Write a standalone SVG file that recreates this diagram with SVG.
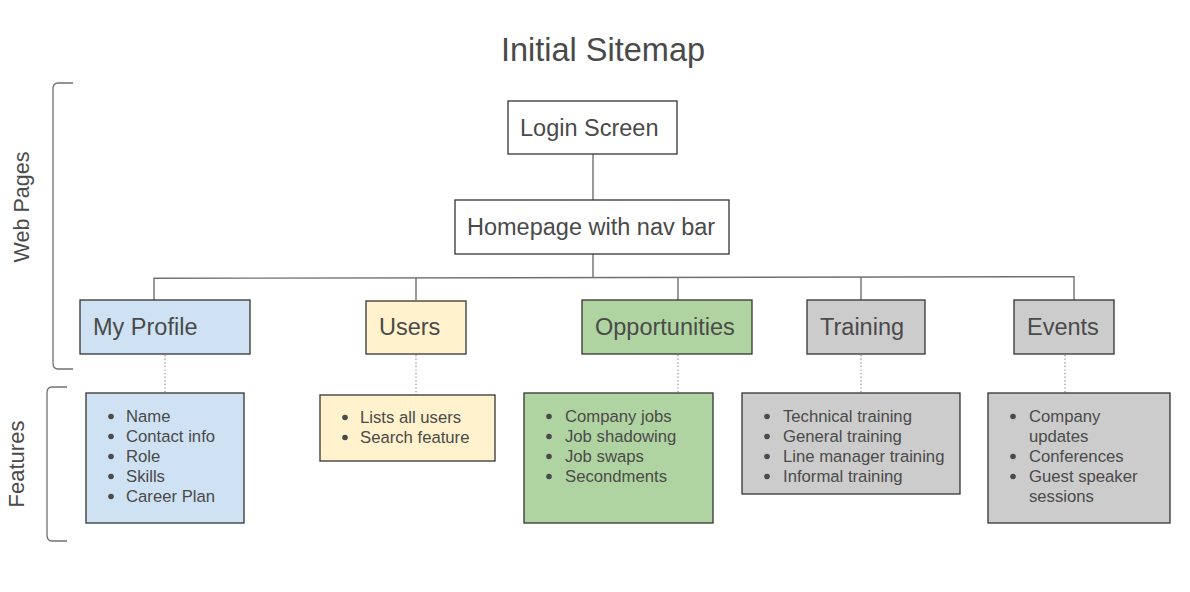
<svg xmlns="http://www.w3.org/2000/svg" width="1190" height="592" viewBox="0 0 1190 592">
<style>
text{font-family:"Liberation Sans",Arial,sans-serif;fill:#4a4a4a}
.box{stroke:#333;stroke-width:1.3}
.nt{font-size:23.5px}
.ft{font-size:16.7px}
.con{fill:none;stroke:#707070;stroke-width:1.4}
.dot{fill:none;stroke:#888;stroke-width:1.2;stroke-dasharray:1.2 2.4}
.br{fill:none;stroke:#707070;stroke-width:1.3}
.b{fill:#4a4a4a}
</style>
<rect width="1190" height="592" fill="#fff"/>
<text x="603" y="61" text-anchor="middle" font-size="32.5">Initial Sitemap</text>
<g id="brackets">
<path class="br" d="M73,83 L58,83 Q53,83 53,89 L53,363 Q53,369 58,369 L73,369"/>
<path class="br" d="M67,387 L52,387 Q47,387 47,393 L47,535 Q47,541 52,541 L67,541"/>
<text transform="translate(29,207) rotate(-90)" text-anchor="middle" font-size="21.5">Web Pages</text>
<text transform="translate(24,464) rotate(-90)" text-anchor="middle" font-size="22">Features</text>
</g>
<g id="connectors">
<path class="con" d="M593,154 V200"/>
<path class="con" d="M593,254 V277.5"/>
<path class="con" d="M154,300 V278.3 L1074,276.7 V300"/>
<path class="con" d="M416,300 V278"/>
<path class="con" d="M678,300 V277.3"/>
<path class="con" d="M861,300 V277"/>
<path class="dot" d="M165,355 V393"/>
<path class="dot" d="M416,355 V395"/>
<path class="dot" d="M678,355 V393"/>
<path class="dot" d="M861,355 V393"/>
<path class="dot" d="M1065,355 V393"/>
</g>
<g id="login"><rect class="box" x="508" y="101" width="169" height="53" fill="#fff"/><text class="nt" x="520" y="136">Login Screen</text></g>
<g id="homepage"><rect class="box" x="455" y="200" width="274" height="54" fill="#fff"/><text class="nt" x="467" y="235">Homepage with nav bar</text></g>
<g id="myprofile"><rect class="box" x="80" y="300" width="170" height="54" fill="#cfe2f3"/><text class="nt" x="93" y="335">My Profile</text></g>
<g id="users"><rect class="box" x="366" y="301" width="100" height="53" fill="#fff2cc"/><text class="nt" x="379" y="335">Users</text></g>
<g id="opportunities"><rect class="box" x="582" y="300" width="170" height="54" fill="#b0d4a1"/><text class="nt" x="595" y="335">Opportunities</text></g>
<g id="training"><rect class="box" x="807" y="300" width="118" height="54" fill="#cccccc"/><text class="nt" x="820" y="335">Training</text></g>
<g id="events"><rect class="box" x="1014" y="300" width="100" height="54" fill="#cccccc"/><text class="nt" x="1027" y="335">Events</text></g>
<g id="profile-features"><rect class="box" x="86" y="393" width="158" height="130" fill="#cfe2f3"/>
<circle class="b" cx="111" cy="416.5" r="2.8"/><circle class="b" cx="111" cy="436.5" r="2.8"/><circle class="b" cx="111" cy="456.5" r="2.8"/><circle class="b" cx="111" cy="476.5" r="2.8"/><circle class="b" cx="111" cy="496.5" r="2.8"/>
<text class="ft" x="126" y="422">Name</text><text class="ft" x="126" y="442">Contact info</text><text class="ft" x="126" y="462">Role</text><text class="ft" x="126" y="482">Skills</text><text class="ft" x="126" y="502">Career Plan</text></g>
<g id="users-features"><rect class="box" x="320" y="395" width="175" height="66" fill="#fff2cc"/>
<circle class="b" cx="345" cy="417.5" r="2.8"/><circle class="b" cx="345" cy="437.5" r="2.8"/>
<text class="ft" x="360" y="423">Lists all users</text><text class="ft" x="360" y="443">Search feature</text></g>
<g id="opportunities-features"><rect class="box" x="524" y="393" width="189" height="130" fill="#b0d4a1"/>
<circle class="b" cx="549" cy="416.5" r="2.8"/><circle class="b" cx="549" cy="436.5" r="2.8"/><circle class="b" cx="549" cy="456.5" r="2.8"/><circle class="b" cx="549" cy="476.5" r="2.8"/>
<text class="ft" x="565" y="422">Company jobs</text><text class="ft" x="565" y="442">Job shadowing</text><text class="ft" x="565" y="462">Job swaps</text><text class="ft" x="565" y="482">Secondments</text></g>
<g id="training-features"><rect class="box" x="742" y="393" width="218" height="101" fill="#cccccc"/>
<circle class="b" cx="767" cy="416.5" r="2.8"/><circle class="b" cx="767" cy="436.5" r="2.8"/><circle class="b" cx="767" cy="456.5" r="2.8"/><circle class="b" cx="767" cy="476.5" r="2.8"/>
<text class="ft" x="783" y="422">Technical training</text><text class="ft" x="783" y="442">General training</text><text class="ft" x="783" y="462">Line manager training</text><text class="ft" x="783" y="482">Informal training</text></g>
<g id="events-features"><rect class="box" x="988" y="393" width="182" height="130" fill="#cccccc"/>
<circle class="b" cx="1013" cy="416.5" r="2.8"/><circle class="b" cx="1013" cy="456.5" r="2.8"/><circle class="b" cx="1013" cy="476.5" r="2.8"/>
<text class="ft" x="1029" y="422">Company</text><text class="ft" x="1029" y="442">updates</text><text class="ft" x="1029" y="462">Conferences</text><text class="ft" x="1029" y="482">Guest speaker</text><text class="ft" x="1029" y="502">sessions</text></g>
</svg>
